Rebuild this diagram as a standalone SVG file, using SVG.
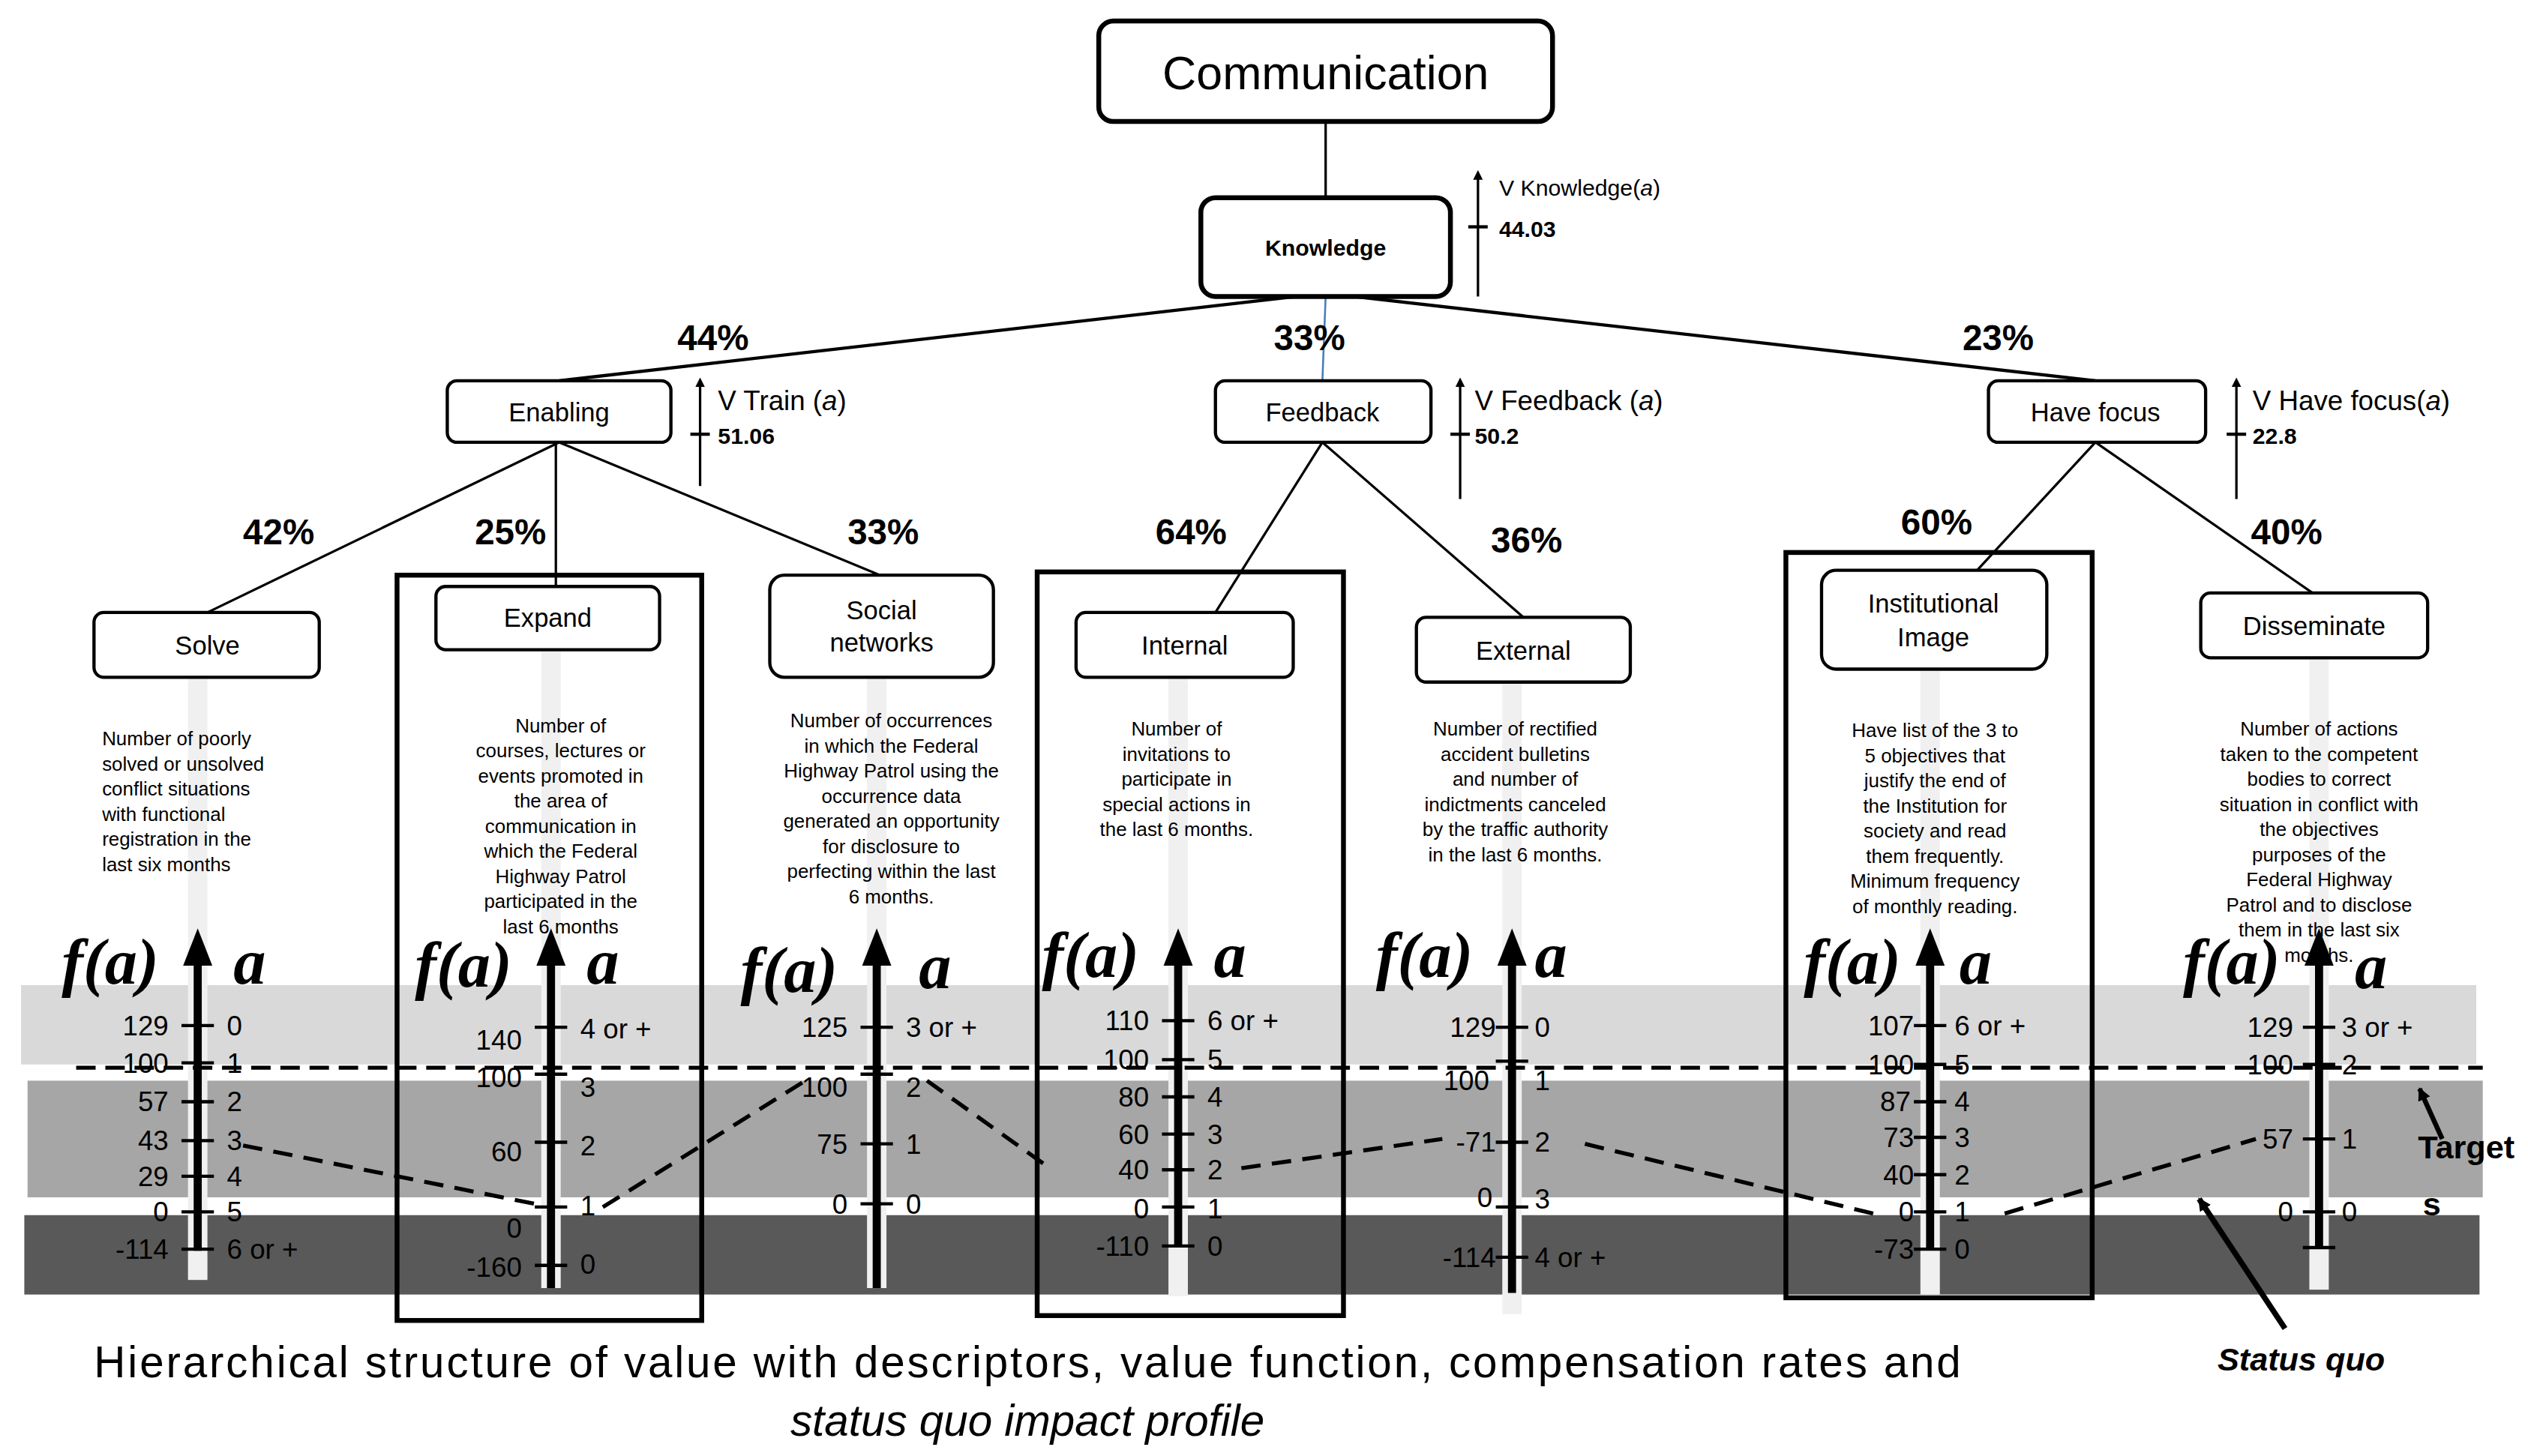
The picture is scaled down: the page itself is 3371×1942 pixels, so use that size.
<svg xmlns="http://www.w3.org/2000/svg" width="3371" height="1942" viewBox="0 0 3371 1942">
<style>
.bx{fill:#fff;stroke:#000;stroke-width:2}
.big{fill:none;stroke:#000;stroke-width:3}
.t{font-family:"Liberation Sans",Arial,sans-serif;fill:#000}
.nt{font-family:"Liberation Sans",Arial,sans-serif;font-size:16px;text-anchor:middle}
.pc{font-family:"Liberation Sans",Arial,sans-serif;font-size:22px;font-weight:bold;text-anchor:middle}
.ds{font-family:"Liberation Sans",Arial,sans-serif;font-size:12px;text-anchor:middle}
.fa{font-family:"Liberation Serif",serif;font-size:40px;font-weight:bold;font-style:italic}
.lv{font-family:"Liberation Sans",Arial,sans-serif;font-size:17px;text-anchor:end}
.rv{font-family:"Liberation Sans",Arial,sans-serif;font-size:17px}
.ln{stroke:#000;stroke-width:1.5;fill:none}
.ax{stroke:#000;stroke-width:5;fill:none}
.tk{stroke:#000;stroke-width:2}
.strip{fill:#f0f0f0}
.sq{stroke:#000;stroke-width:2.5;stroke-dasharray:12 7;fill:none}
</style>
<defs>
<marker id="ah" markerWidth="4" markerHeight="4" refX="2" refY="2" orient="auto" markerUnits="strokeWidth"><path d="M0,0 L4,2 L0,4 Z"/></marker>
<marker id="sa" markerWidth="8" markerHeight="8" refX="7" refY="4" orient="auto" markerUnits="userSpaceOnUse"><path d="M0,0 L8,4 L0,8 Z"/></marker>
</defs>
<rect width="3371" height="1942" fill="#fff"/>
<g transform="scale(2.161)">
<g id="bands">
<rect x="13" y="608" width="1515" height="49" fill="#d9d9d9"/>
<rect x="17" y="667" width="1515" height="72" fill="#a6a6a6"/>
<rect x="15" y="750" width="1515" height="49" fill="#595959"/>
<rect class="strip" x="116" y="418" width="12" height="372"/>
<rect class="strip" x="334" y="401" width="12" height="394"/>
<rect class="strip" x="535" y="418" width="12" height="377"/>
<rect class="strip" x="721" y="418" width="12" height="382"/>
<rect class="strip" x="927" y="421" width="12" height="390"/>
<rect class="strip" x="1185" y="413" width="12" height="386"/>
<rect class="strip" x="1425" y="406" width="12" height="390"/>
</g>
<g id="connectors">
<line class="ln" x1="818" y1="75" x2="818" y2="122"/>
<line class="ln" x1="800" y1="183" x2="345" y2="235" style="stroke-width:2"/>
<line x1="818" y1="183" x2="816" y2="235" stroke="#4a7ebb" stroke-width="1.2"/>
<line class="ln" x1="835" y1="183" x2="1293" y2="235" style="stroke-width:2"/>
<line class="ln" x1="345" y1="273" x2="128" y2="378"/>
<line class="ln" x1="343" y1="273" x2="343" y2="365"/>
<line class="ln" x1="345" y1="273" x2="543" y2="355"/>
<line class="ln" x1="816" y1="273" x2="750" y2="378"/>
<line class="ln" x1="816" y1="273" x2="940" y2="381"/>
<line class="ln" x1="1293" y1="273" x2="1220" y2="352"/>
<line class="ln" x1="1293" y1="273" x2="1427" y2="366"/>
<line class="ln" x1="912" y1="183" x2="912" y2="108" marker-end="url(#ah)" style="stroke-width:1.5"/>
<line class="ln" x1="432" y1="300" x2="432" y2="236" marker-end="url(#ah)"/>
<line class="ln" x1="901" y1="308" x2="901" y2="236" marker-end="url(#ah)"/>
<line class="ln" x1="1380" y1="308" x2="1380" y2="236" marker-end="url(#ah)"/>
<line class="tk" x1="906" y1="140" x2="918" y2="140"/>
<line class="tk" x1="426" y1="268" x2="438" y2="268"/>
<line class="tk" x1="895" y1="268" x2="907" y2="268"/>
<line class="tk" x1="1374" y1="268" x2="1386" y2="268"/>
</g>
<g id="communication"><rect class="bx" x="678" y="13" width="280" height="62" rx="9" style="stroke-width:3"/><text class="nt" x="818" y="55" style="font-size:29px">Communication</text></g>
<g id="knowledge"><rect class="bx" x="741" y="122" width="154" height="61" rx="9" style="stroke-width:3"/><text class="nt" x="818" y="158" style="font-size:14px;font-weight:bold">Knowledge</text>
<text class="t" x="925" y="121" font-size="14">V Knowledge(<tspan font-style="italic">a</tspan>)</text><text class="t" x="925" y="146" font-size="14" font-weight="bold">44.03</text></g>
<g id="enabling"><rect class="bx" x="276" y="235" width="138" height="38" rx="6"/><text class="nt" x="345" y="260">Enabling</text>
<text class="t" x="443" y="253" font-size="17">V Train (<tspan font-style="italic">a</tspan>)</text><text class="t" x="443" y="274" font-size="14" font-weight="bold">51.06</text></g>
<g id="feedback"><rect class="bx" x="750" y="235" width="133" height="38" rx="6"/><text class="nt" x="816" y="260">Feedback</text>
<text class="t" x="910" y="253" font-size="17">V Feedback (<tspan font-style="italic">a</tspan>)</text><text class="t" x="910" y="274" font-size="14" font-weight="bold">50.2</text></g>
<g id="havefocus"><rect class="bx" x="1227" y="235" width="134" height="38" rx="6"/><text class="nt" x="1293" y="260">Have  focus</text>
<text class="t" x="1390" y="253" font-size="17">V Have focus(<tspan font-style="italic">a</tspan>)</text><text class="t" x="1390" y="274" font-size="14" font-weight="bold">22.8</text></g>
<g id="pct">
<text class="pc" x="440" y="216">44%</text><text class="pc" x="808" y="216">33%</text><text class="pc" x="1233" y="216">23%</text>
<text class="pc" x="172" y="336">42%</text><text class="pc" x="315" y="336">25%</text><text class="pc" x="545" y="336">33%</text>
<text class="pc" x="735" y="336">64%</text><text class="pc" x="942" y="341">36%</text><text class="pc" x="1195" y="330">60%</text><text class="pc" x="1411" y="336">40%</text>
</g>
<g id="frames">
<rect class="big" x="245" y="355" width="188" height="460"/>
<rect class="big" x="640" y="353" width="189" height="459"/>
<rect class="big" x="1102" y="341" width="189" height="460"/>
</g>
<g id="solve"><rect class="bx" x="58" y="378" width="139" height="40" rx="6"/><text class="nt" x="128" y="404">Solve</text>
<text class="ds" style="text-anchor:start" x="63" y="460">Number of poorly<tspan x="63" dy="15.5">solved or unsolved</tspan><tspan x="63" dy="15.5">conflict situations</tspan><tspan x="63" dy="15.5">with functional</tspan><tspan x="63" dy="15.5">registration in the</tspan><tspan x="63" dy="15.5">last six months</tspan></text></g>
<g id="expand"><rect class="bx" x="269" y="362" width="138" height="39" rx="6"/><text class="nt" x="338" y="387">Expand</text>
<text class="ds" x="346" y="452">Number  of<tspan x="346" dy="15.5">courses, lectures or</tspan><tspan x="346" dy="15.5">events  promoted in</tspan><tspan x="346" dy="15.5">the area of</tspan><tspan x="346" dy="15.5">communication in</tspan><tspan x="346" dy="15.5">which the Federal</tspan><tspan x="346" dy="15.5">Highway Patrol</tspan><tspan x="346" dy="15.5">participated in the</tspan><tspan x="346" dy="15.5">last 6 months</tspan></text></g>
<g id="social"><rect class="bx" x="475" y="355" width="138" height="63" rx="9"/><text class="nt" x="544" y="382">Social<tspan x="544" dy="20">networks</tspan></text>
<text class="ds" x="550" y="449">Number of  occurrences<tspan x="550" dy="15.5">in which the Federal</tspan><tspan x="550" dy="15.5">Highway Patrol using the</tspan><tspan x="550" dy="15.5">occurrence data</tspan><tspan x="550" dy="15.5">generated an opportunity</tspan><tspan x="550" dy="15.5">for disclosure to</tspan><tspan x="550" dy="15.5">perfecting  within the last</tspan><tspan x="550" dy="15.5">6 months.</tspan></text></g>
<g id="internal"><rect class="bx" x="664" y="378" width="134" height="40" rx="6"/><text class="nt" x="731" y="404">Internal</text>
<text class="ds" x="726" y="454">Number of<tspan x="726" dy="15.5">invitations to</tspan><tspan x="726" dy="15.5">participate in</tspan><tspan x="726" dy="15.5">special actions in</tspan><tspan x="726" dy="15.5">the last 6 months.</tspan></text></g>
<g id="external"><rect class="bx" x="874" y="381" width="132" height="40" rx="6"/><text class="nt" x="940" y="407">External</text>
<text class="ds" x="935" y="454">Number of rectified<tspan x="935" dy="15.5">accident bulletins</tspan><tspan x="935" dy="15.5">and number of</tspan><tspan x="935" dy="15.5">indictments canceled</tspan><tspan x="935" dy="15.5">by the traffic authority</tspan><tspan x="935" dy="15.5">in the last 6 months.</tspan></text></g>
<g id="institutional"><rect class="bx" x="1124" y="352" width="139" height="61" rx="9"/><text class="nt" x="1193" y="378">Institutional<tspan x="1193" dy="21">Image</tspan></text>
<text class="ds" x="1194" y="455">Have  list of the 3 to<tspan x="1194" dy="15.5">5 objectives that</tspan><tspan x="1194" dy="15.5">justify the end of</tspan><tspan x="1194" dy="15.5">the Institution for</tspan><tspan x="1194" dy="15.5">society and read</tspan><tspan x="1194" dy="15.5">them frequently.</tspan><tspan x="1194" dy="15.5">Minimum frequency</tspan><tspan x="1194" dy="15.5">of monthly reading.</tspan></text></g>
<g id="disseminate"><rect class="bx" x="1358" y="366" width="140" height="40" rx="6"/><text class="nt" x="1428" y="392">Disseminate</text>
<text class="ds" x="1431" y="454">Number of actions<tspan x="1431" dy="15.5">taken to the competent</tspan><tspan x="1431" dy="15.5">bodies to correct</tspan><tspan x="1431" dy="15.5">situation in conflict with</tspan><tspan x="1431" dy="15.5">the objectives</tspan><tspan x="1431" dy="15.5">purposes of the</tspan><tspan x="1431" dy="15.5">Federal Highway</tspan><tspan x="1431" dy="15.5">Patrol and to disclose</tspan><tspan x="1431" dy="15.5">them in the last six</tspan><tspan x="1431" dy="15.5">months.</tspan></text></g>
<line x1="47" y1="659" x2="1532" y2="659" stroke="#000" stroke-width="2.5" stroke-dasharray="12 6"/>
<path class="sq" d="M150,707 L335,744 M372,745 L497,667 M572,667 L645,719 M766,721 L890,703 M978,706 L1160,750 M1237,749 L1392,703"/>
<g id="axes">
<g transform="translate(122,0)"><line class="ax" x1="0" y1="772" x2="0" y2="585"/><path d="M-9,596 L0,573 L9,596 Z"/>
<text class="fa" x="-84" y="607">f(a)</text><text class="fa" x="22" y="607">a</text>
<path class="tk" d="M-10,633h20M-10,656h20M-10,680h20M-10,704h20M-10,726h20M-10,748h20M-10,771h20"/>
<text class="lv" x="-18" y="639">129</text><text class="lv" x="-18" y="662">100</text><text class="lv" x="-18" y="686">57</text><text class="lv" x="-18" y="710">43</text><text class="lv" x="-18" y="732">29</text><text class="lv" x="-18" y="754">0</text><text class="lv" x="-18" y="777">-114</text>
<text class="rv" x="18" y="639">0</text><text class="rv" x="18" y="662">1</text><text class="rv" x="18" y="686">2</text><text class="rv" x="18" y="710">3</text><text class="rv" x="18" y="732">4</text><text class="rv" x="18" y="754">5</text><text class="rv" x="18" y="777">6 or +</text></g>
<g transform="translate(340,0)"><line class="ax" x1="0" y1="795" x2="0" y2="585"/><path d="M-9,596 L0,573 L9,596 Z"/>
<text class="fa" x="-84" y="609">f(a)</text><text class="fa" x="22" y="607">a</text>
<path class="tk" d="M-10,634h20M-10,663h20M-10,705h20M-10,745h20M-10,781h20"/>
<text class="lv" x="-18" y="648">140</text><text class="lv" x="-18" y="671">100</text><text class="lv" x="-18" y="717">60</text><text class="lv" x="-18" y="764">0</text><text class="lv" x="-18" y="788">-160</text>
<text class="rv" x="18" y="641">4 or +</text><text class="rv" x="18" y="677">3</text><text class="rv" x="18" y="713">2</text><text class="rv" x="18" y="750">1</text><text class="rv" x="18" y="786">0</text></g>
<g transform="translate(541,0)"><line class="ax" x1="0" y1="795" x2="0" y2="585"/><path d="M-9,596 L0,573 L9,596 Z"/>
<text class="fa" x="-84" y="612">f(a)</text><text class="fa" x="26" y="610">a</text>
<path class="tk" d="M-10,634h20M-10,663h20M-10,706h20M-10,743h20"/>
<text class="lv" x="-18" y="640">125</text><text class="lv" x="-18" y="677">100</text><text class="lv" x="-18" y="712">75</text><text class="lv" x="-18" y="749">0</text>
<text class="rv" x="18" y="640">3 or +</text><text class="rv" x="18" y="677">2</text><text class="rv" x="18" y="712">1</text><text class="rv" x="18" y="749">0</text></g>
<g transform="translate(727,0)"><line class="ax" x1="0" y1="770" x2="0" y2="585"/><path d="M-9,596 L0,573 L9,596 Z"/>
<text class="fa" x="-84" y="603">f(a)</text><text class="fa" x="22" y="603">a</text>
<path class="tk" d="M-10,630h20M-10,654h20M-10,677h20M-10,700h20M-10,722h20M-10,745h20M-10,769h20"/>
<text class="lv" x="-18" y="636">110</text><text class="lv" x="-18" y="660">100</text><text class="lv" x="-18" y="683">80</text><text class="lv" x="-18" y="706">60</text><text class="lv" x="-18" y="728">40</text><text class="lv" x="-18" y="752">0</text><text class="lv" x="-18" y="775">-110</text>
<text class="rv" x="18" y="636">6 or +</text><text class="rv" x="18" y="660">5</text><text class="rv" x="18" y="683">4</text><text class="rv" x="18" y="706">3</text><text class="rv" x="18" y="728">2</text><text class="rv" x="18" y="752">1</text><text class="rv" x="18" y="775">0</text></g>
<g transform="translate(933,0)"><line class="ax" x1="0" y1="798" x2="0" y2="585"/><path d="M-9,596 L0,573 L9,596 Z"/>
<text class="fa" x="-84" y="603">f(a)</text><text class="fa" x="14" y="603">a</text>
<path class="tk" d="M-10,634h20M-10,655h20M-10,705h20M-10,745h20M-10,776h20"/>
<text class="lv" x="-10" y="640">129</text><text class="lv" x="-14" y="673">100</text><text class="lv" x="-10" y="711">-71</text><text class="lv" x="-12" y="745">0</text><text class="lv" x="-10" y="782">-114</text>
<text class="rv" x="14" y="640">0</text><text class="rv" x="14" y="673">1</text><text class="rv" x="14" y="711">2</text><text class="rv" x="14" y="746">3</text><text class="rv" x="14" y="782">4 or +</text></g>
<g transform="translate(1191,0)"><line class="ax" x1="0" y1="770" x2="0" y2="585"/><path d="M-9,596 L0,573 L9,596 Z"/>
<text class="fa" x="-78" y="607">f(a)</text><text class="fa" x="18" y="607">a</text>
<path class="tk" d="M-10,633h20M-10,657h20M-10,680h20M-10,702h20M-10,725h20M-10,748h20M-10,771h20"/>
<text class="lv" x="-10" y="639">107</text><text class="lv" x="-10" y="663">100</text><text class="lv" x="-12" y="686">87</text><text class="lv" x="-10" y="708">73</text><text class="lv" x="-10" y="731">40</text><text class="lv" x="-10" y="754">0</text><text class="lv" x="-10" y="777">-73</text>
<text class="rv" x="15" y="639">6 or +</text><text class="rv" x="15" y="663">5</text><text class="rv" x="15" y="686">4</text><text class="rv" x="15" y="708">3</text><text class="rv" x="15" y="731">2</text><text class="rv" x="15" y="754">1</text><text class="rv" x="15" y="777">0</text></g>
<g transform="translate(1431,0)"><line class="ax" x1="0" y1="770" x2="0" y2="585"/><path d="M-9,596 L0,573 L9,596 Z"/>
<text class="fa" x="-84" y="607">f(a)</text><text class="fa" x="22" y="610">a</text>
<path class="tk" d="M-10,634h20M-10,657h20M-10,703h20M-10,748h20M-10,770h20"/>
<text class="lv" x="-16" y="640">129</text><text class="lv" x="-16" y="663">100</text><text class="lv" x="-16" y="709">57</text><text class="lv" x="-16" y="754">0</text>
<text class="rv" x="14" y="640">3 or +</text><text class="rv" x="14" y="663">2</text><text class="rv" x="14" y="709">1</text><text class="rv" x="14" y="754">0</text></g>
</g>
<g id="annotations">
<line x1="1507" y1="703" x2="1493" y2="672" stroke="#000" stroke-width="3" marker-end="url(#sa)"/>
<text class="t" x="1492" y="715" font-size="20" font-weight="bold">Target</text>
<text class="t" x="1495" y="750" font-size="20" font-weight="bold">s</text>
<line x1="1410" y1="820" x2="1357" y2="740" stroke="#000" stroke-width="3.5" marker-end="url(#sa)"/>
<text class="t" x="1420" y="846" font-size="20" font-weight="bold" font-style="italic" text-anchor="middle">Status quo</text>
<text class="t" x="634" y="850" font-size="27" text-anchor="middle" textLength="1152" lengthAdjust="spacing">Hierarchical structure of value with descriptors, value function, compensation rates and</text>
<text class="t" x="634" y="886" font-size="27" font-style="italic" text-anchor="middle">status quo impact profile</text>
</g>
</g>
</svg>
